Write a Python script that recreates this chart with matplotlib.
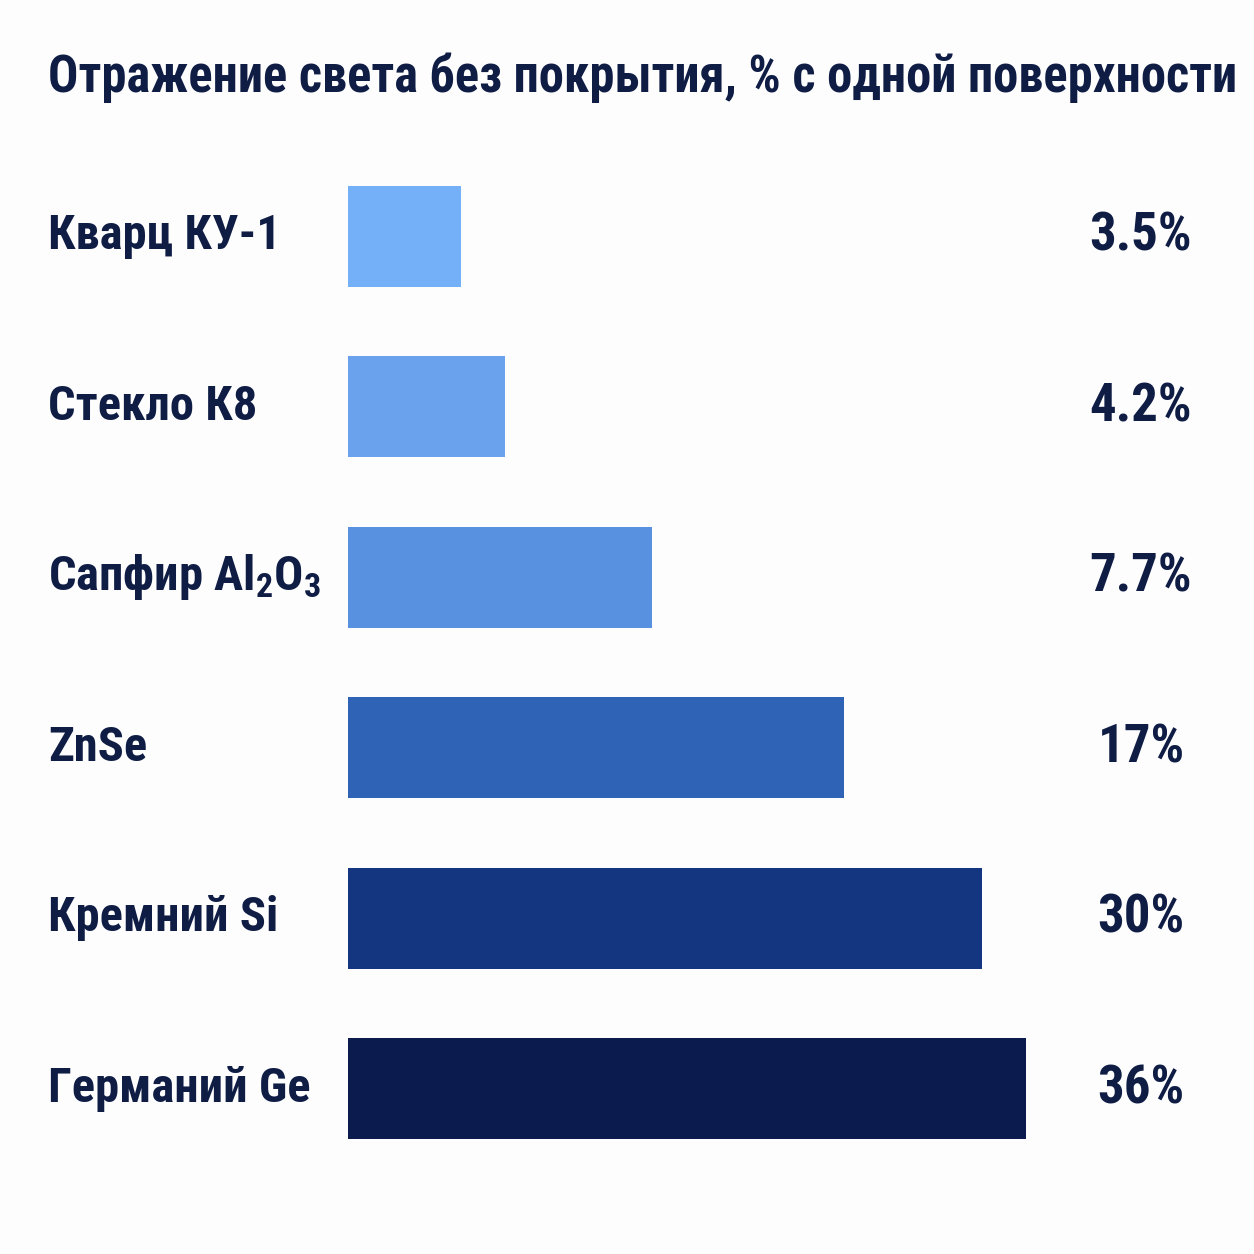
import matplotlib
matplotlib.use("Agg")
import matplotlib.pyplot as plt
import matplotlib.transforms as mtransforms
from matplotlib import font_manager as fm
import numpy as np

materials = ["Кварц КУ-1", "Стекло К8", "Сапфир Al$_\\mathbf{2}$O$_\\mathbf{3}$", "ZnSe", "Кремний Si", "Германий Ge"]
reflect = [3.5, 4.2, 7.7, 17, 30, 36]
value_labels = ["3.5%", "4.2%", "7.7%", "17%", "30%", "36%"]
colors = ["#74B0F8", "#6AA2EE", "#5891E0", "#2F63B6", "#14357F", "#0B1B4D"]
title = "Отражение света без покрытия, % с одной поверхности"

names = {f.name for f in fm.fontManager.ttflist}
fam = "Roboto"
for cand in ["Roboto Condensed", "Archivo Narrow", "Asap Condensed", "Barlow Condensed"]:
    if cand in names:
        fam = cand
        break
plt.rcParams["font.family"] = [fam, "DejaVu Sans"]
plt.rcParams["mathtext.fontset"] = "custom"
plt.rcParams["mathtext.rm"] = fam + ":bold"
plt.rcParams["mathtext.bf"] = fam + ":bold"
plt.rcParams["mathtext.it"] = fam + ":bold"

txt = "#0F1D45"
W = H = 1254
fig = plt.figure(figsize=(12.54, 12.54), dpi=100)
fig.patch.set_facecolor("#FDFDFE")

ax_left = 348 / W
ax_right = 1150 / W
top_px, bot_px = 151, 1174
ax = fig.add_axes([ax_left, (H - bot_px) / H, ax_right - ax_left, (bot_px - top_px) / H])
ax.set_facecolor("none")
ax.set_xscale("log")
xmin = 2.195
ax.set_xlim(xmin, 60)
y = np.arange(len(materials))
ax.barh(y, [v - xmin for v in reflect], left=xmin, height=0.59, color=colors)
ax.set_ylim(5.5, -0.5)
ax.axis("off")

blend = mtransforms.blended_transform_factory(fig.transFigure, ax.transData)
for i, (name, lab) in enumerate(zip(materials, value_labels)):
    ax.text(48 / W, i, name, transform=blend, ha="left", va="center",
            fontsize=35, fontweight="bold", color=txt)
    ax.text(1141 / W, i, lab, transform=blend,
            ha="center", va="center", fontsize=38, fontweight="bold", color=txt)

t = fig.text(48 / W, 1 - 78 / H, title, ha="left", va="center", fontsize=34, fontweight="bold", color=txt)
fig.canvas.draw()
bb = t.get_window_extent()
t.set_fontsize(34 * (1240 - 48) / bb.width)

fig.savefig("out.png", dpi=100, facecolor=fig.get_facecolor())
